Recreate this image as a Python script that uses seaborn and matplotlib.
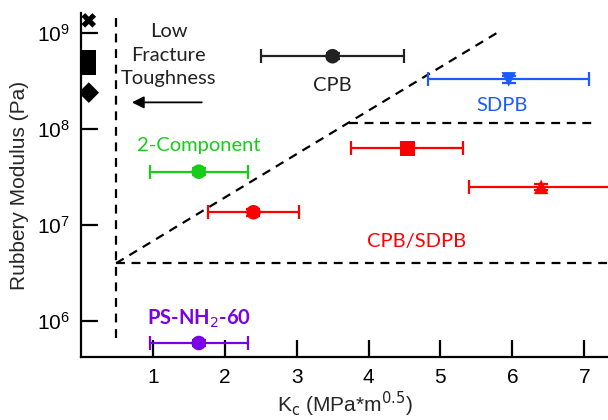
import matplotlib
matplotlib.use("Agg")
import matplotlib.pyplot as plt
import seaborn as sns
import pandas as pd
import numpy as np

# data
names = ["Low1", "Low2a", "Low2b", "Low3", "CPB", "SDPB", "Red1", "Red2", "Red3", "2-Component", "PS-NH2-60"]
kc = [0.11, 0.11, 0.11, 0.11, 3.50, 5.95, 4.54, 6.40, 2.40, 1.64, 1.64]
kc_err = [0.0, 0.0, 0.0, 0.0, 1.00, 1.12, 0.78, 1.00, 0.63, 0.68, 0.68]
modulus = [1.36e9, 5.6e8, 4.4e8, 2.4e8, 5.75e8, 3.3e8, 6.3e7, 2.5e7, 1.36e7, 3.6e7, 5.9e5]
mod_err_frac = [0.08, 0.1, 0.1, 0.06, 0.07, 0.08, 0.06, 0.08, 0.08, 0.08, 0.08]
groups = ["low", "low", "low", "low", "cpb", "sdpb", "mix", "mix", "mix", "two", "ps"]
marker_list = ["X", "s", "s", "D", "o", "v", "s", "^", "o", "o", "o"]

df = pd.DataFrame({"name": names, "kc": kc, "modulus": modulus, "group": groups})

palette = {"low": "black", "cpb": "#222222", "sdpb": "#1a5cff", "mix": "#ff0000",
           "two": "#19cc19", "ps": "#7a00e6"}

sns.set_theme(style="ticks")
plt.rcParams['font.family'] = ['Liberation Sans', 'DejaVu Sans']

fig = plt.figure(figsize=(6.08, 4.2), dpi=100)
ax = fig.add_axes([0.133, 0.15, 0.867, 0.819])

for i, row in df.iterrows():
    c = palette[row["group"]]
    if kc_err[i] > 0:
        ax.errorbar(row["kc"], row["modulus"], xerr=kc_err[i],
                    yerr=row["modulus"] * mod_err_frac[i],
                    fmt="none", ecolor=c, elinewidth=1.6, capsize=5, capthick=1.6, zorder=3)
sns.scatterplot(data=df, x="kc", y="modulus", hue="group", style="name",
                palette=palette, markers=dict(zip(names, marker_list)),
                s=110, edgecolor="none", legend=False, ax=ax, zorder=4)

ax.set_yscale("log")
ax.set_xlim(0, 7.33)
ax.set_ylim(10**5.625, 10**9.21)
ax.set_xticks([1, 2, 3, 4, 5, 6, 7])
ax.set_yticks([1e6, 1e7, 1e8, 1e9])
ax.minorticks_off()
ax.yaxis.set_minor_locator(matplotlib.ticker.NullLocator())
sns.despine(ax=ax)
for s in ["left", "bottom"]:
    ax.spines[s].set_linewidth(1.6)
    ax.spines[s].set_color("black")
ax.tick_params(direction="in", length=12, width=1.6, labelsize=15, colors="black", pad=8)
ax.set_xlabel(r"K$_\mathrm{c}$ (MPa*m$^{0.5}$)", fontsize=15, labelpad=2)
ax.set_ylabel("Rubbery Modulus (Pa)", fontsize=15, labelpad=6)

dash = dict(color="black", lw=1.6, ls=(0, (4, 3)), zorder=2)
ax.plot([0.49, 0.49], [6.6e5, 1.5e9], **dash)
ax.plot([0.49, 7.33], [4.0e6, 4.0e6], **dash)
ax.plot([0.49, 5.78], [4.0e6, 1.0e9], **dash)
ax.plot([3.73, 7.15], [1.15e8, 1.15e8], **dash)
ax.annotate("", xy=(0.67, 1.9e8), xytext=(1.72, 1.9e8),
            arrowprops=dict(arrowstyle="-|>", color="black", lw=1.3, mutation_scale=18))

tf = ['Lato', 'DejaVu Sans']
fs = 14.5
ax.text(1.22, 10**8.77, "Low\nFracture\nToughness", ha="center", va="center",
        fontsize=fs, color="#222222", family=tf, linespacing=1.45)
ax.text(3.5, 10**8.45, "CPB", ha="center", va="center", fontsize=fs, color="#222222", family=tf)
ax.text(5.85, 10**8.25, "SDPB", ha="center", va="center", fontsize=fs, color="#1a5cff", family=tf)
ax.text(1.64, 10**7.83, "2-Component", ha="center", va="center", fontsize=fs, color="#19cc19", family=tf)
ax.text(4.67, 10**6.83, "CPB/SDPB", ha="center", va="center", fontsize=fs, color="#ff0000", family=tf)
ax.text(1.64, 10**6.02, r"PS-NH$_2$-60", ha="center", va="center", fontsize=fs, color="#7a00e6",
        family=tf, fontweight="bold")

fig.savefig("out.png", dpi=100)
